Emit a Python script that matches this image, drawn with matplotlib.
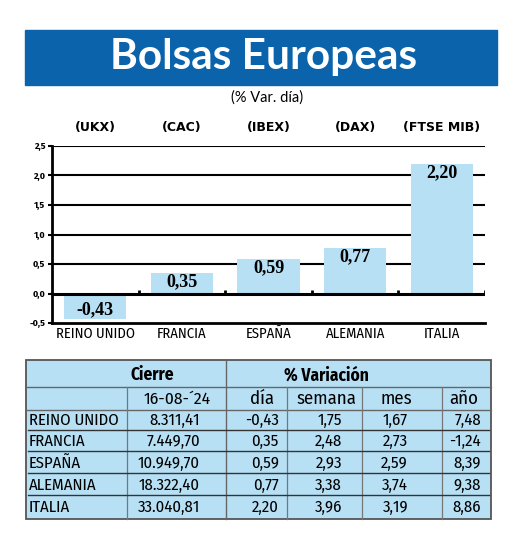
import matplotlib
matplotlib.use('Agg')
import matplotlib.pyplot as plt
from matplotlib.patches import Rectangle

# datos
paises = ['REINO UNIDO', 'FRANCIA', 'ESPAÑA', 'ALEMANIA', 'ITALIA']
indices = ['(UKX)', '(CAC)', '(IBEX)', '(DAX)', '(FTSE MIB)']
var_dia = [-0.43, 0.35, 0.59, 0.77, 2.20]
cierre = ['8.311,41', '7.449,70', '10.949,70', '18.322,40', '33.040,81']
var_semana = [1.75, 2.48, 2.93, 3.38, 3.96]
var_mes = [1.67, 2.73, 2.59, 3.74, 3.19]
var_anio = [7.48, -1.24, 8.39, 9.38, 8.86]
fecha = "16-08-´24"
yticks = [-0.5, 0.0, 0.5, 1.0, 1.5, 2.0, 2.5]

AZUL = '#0b64ab'
CELESTE = '#b7e0f5'
NARROW = ['Fira Sans Condensed', 'DejaVu Sans']


def coma(v):
    return ('%.2f' % v).replace('.', ',')


W, H = 520, 546
fig = plt.figure(figsize=(W / 100, H / 100), dpi=100)
bg = fig.add_axes([0, 0, 1, 1])
bg.set_xlim(0, W)
bg.set_ylim(H, 0)
bg.axis('off')

# cabecera
bg.add_patch(Rectangle((25, 30), 472, 55, color=AZUL))
bg.text(264, 57, 'Bolsas Europeas', color='white', fontsize=30.5, fontweight='bold',
        family='Lato', ha='center', va='center')
bg.text(267, 98, '(% Var. día)', fontsize=10.5, family='Lato', ha='center', va='center')

# grafico de barras
ax = fig.add_axes([52 / W, 1 - 323 / H, 433 / W, 177 / H])
x = list(range(len(paises)))
ax.set_xlim(-0.5, 4.5)
ax.set_ylim(-0.5, 2.5)
for g in yticks[2:]:
    ax.axhline(g, color='black', lw=1.5, zorder=1)
ax.bar(x, var_dia, width=0.72, color=CELESTE, zorder=2)
ax.axhline(0, color='black', lw=2.2, zorder=3)
ax.vlines([i + 0.5 for i in x], 0, 0.06, color='black', lw=2, zorder=3)
for i, v in enumerate(var_dia):
    off = -0.15 if v > 0 else 0.15
    ax.text(i, v + off, coma(v), ha='center', va='center', fontsize=13,
            fontweight='bold', family='Liberation Serif', zorder=4)
ax.set_xticks(x)
ax.set_xticklabels(paises, family=NARROW, fontsize=10.5)
ax.set_yticks(yticks)
ax.set_yticklabels([('%.1f' % t).replace('.', ',') for t in yticks], fontsize=7,
                   family=NARROW, fontweight='bold')
ax.tick_params(axis='x', length=0, pad=3)
ax.tick_params(axis='y', length=3, width=1.5, pad=2)
for s in ['top', 'right']:
    ax.spines[s].set_visible(False)
ax.spines['left'].set_linewidth(2)
ax.spines['bottom'].set_linewidth(2)

# indices sobre cada barra
for i, nom in enumerate(indices):
    bg.text(52 + 86.6 * (i + 0.5), 128, nom, ha='center', va='center',
            fontsize=9, fontweight='bold', family='DejaVu Sans')

# tabla
top, bot = 360, 519
filas = [410, 431, 452, 474, 496, 519]
bg.add_patch(Rectangle((26, top), 465, bot - top, facecolor=CELESTE,
                       edgecolor='#555555', lw=1.3))
bg.plot([26, 491], [387, 387], color='#666666', lw=1)
bg.plot([26, 491], [410, 410], color='#666666', lw=1)
bg.plot([226, 226], [top, bot], color='#666666', lw=1)
for cx in [127, 287, 362, 442]:
    bg.plot([cx, cx], [387, bot], color='#777777', lw=0.9)
for fy in filas[1:-1]:
    bg.plot([28, 489], [fy - 1, fy - 1], color='#333333', lw=1)

bg.text(152, 375, 'Cierre', fontsize=12.5, fontweight='bold', family=NARROW, ha='center', va='center')
bg.text(326, 375, '% Variación', fontsize=12.5, fontweight='bold', family=NARROW, ha='center', va='center')
bg.text(177, 399, fecha, fontsize=12.5, family=NARROW, ha='center', va='center')
for lab, cx in zip(['día', 'semana', 'mes', 'año'], [262, 326, 396, 464]):
    bg.text(cx, 399, lab, fontsize=13.5, family=NARROW, ha='center', va='center')

for r in range(len(paises)):
    cy = (filas[r] + filas[r + 1]) / 2
    bg.text(29, cy, paises[r], fontsize=12, family=NARROW, ha='left', va='center')
    bg.text(200, cy, cierre[r], fontsize=12, family=NARROW, ha='right', va='center')
    bg.text(279, cy, coma(var_dia[r]), fontsize=12, family=NARROW, ha='right', va='center')
    bg.text(342, cy, coma(var_semana[r]), fontsize=12, family=NARROW, ha='right', va='center')
    bg.text(408, cy, coma(var_mes[r]), fontsize=12, family=NARROW, ha='right', va='center')
    bg.text(481, cy, coma(var_anio[r]), fontsize=12, family=NARROW, ha='right', va='center')

fig.savefig('out.png', dpi=100)
